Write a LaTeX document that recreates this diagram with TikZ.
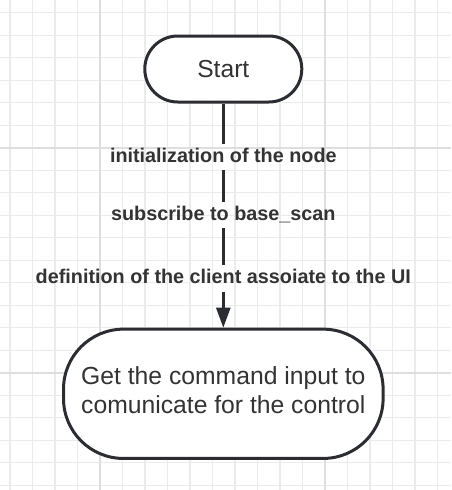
\documentclass[tikz,border=0pt]{standalone}
\usepackage{fontspec}
\setmainfont{Liberation Sans}
\usetikzlibrary{arrows.meta}
\definecolor{ink}{HTML}{2B2D33}
\definecolor{txt}{HTML}{333333}
\definecolor{gminor}{HTML}{EBEBEB}
\definecolor{gmajor}{HTML}{DEDEDE}
\begin{document}
\begin{tikzpicture}[x=1pt,y=-1pt,
  term/.style={draw=ink, line width=3pt, fill=white, rounded corners=#1, inner sep=0pt, text=txt, align=center},
  lab/.style={font=\fontsize{19.8}{23}\selectfont\bfseries, text=txt, inner xsep=2pt, inner ysep=3.5pt, text height=14.9pt, text depth=4pt},
  conn/.style={draw=ink, line width=2.5pt},
  gridminor/.style={draw=gminor, line width=1.4pt},
  gridmajor/.style={draw=gmajor, line width=2.2pt}]
  \useasboundingbox (0,0) rectangle (451,490);
  \fill[white] (0,0) rectangle (451,490);
  % grid
  \foreach \i in {0,...,19} \draw[gridminor] ({10+22.5*\i},0) -- ++(0,490);
  \foreach \i in {0,...,21} \draw[gridminor] (0,{12.7+22.5*\i}) -- ++(451,0);
  \foreach \x in {100,325} \draw[gridmajor] (\x,0) -- ++(0,490);
  \foreach \y in {147.7,372.7} \draw[gridmajor] (0,\y) -- ++(451,0);
  % nodes
  \node[term=32.9pt, minimum width=157pt, minimum height=66pt, font=\fontsize{24.6}{29.5}\selectfont] (start) at (223.3,69) {Start};
  \node[term=60pt, minimum width=319.6pt, minimum height=129.3pt, font=\fontsize{24.7}{29.4}\selectfont] (cmd) at (223.3,393.8) {Get the command input to\\comunicate for the control\rule[-8pt]{0pt}{0pt}};
  \node[lab] (l1) at (223.3,157.2) {initialization of the node};
  \node[lab] (l2) at (223.3,215) {subscribe to base\_scan};
  \node[lab] (l3) at (223.3,278.5) {definition of the client assoiate to the UI};
  % connectors
  \draw[conn] (start) -- (l1);
  \draw[conn] (l1) -- (l2);
  \draw[conn] (l2) -- (l3);
  \draw[conn, -{Triangle[length=20pt, width=14pt]}] (l3) -- (cmd);
\end{tikzpicture}
\end{document}
